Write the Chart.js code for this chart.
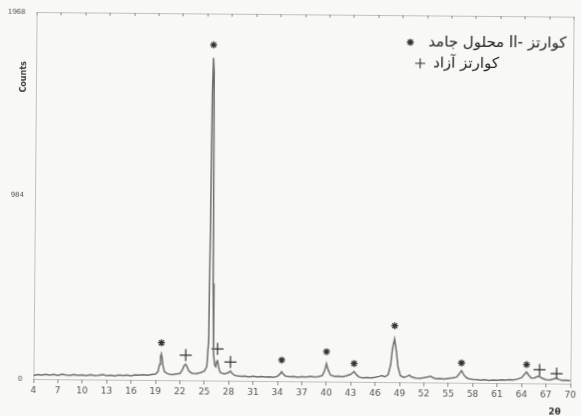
<!DOCTYPE html>
<html>
<head>
<meta charset="utf-8">
<script src="https://cdn.jsdelivr.net/npm/chart.js@4.4.1/dist/chart.umd.min.js"></script>
<style>
  html, body { margin: 0; padding: 0; background: #f8f8f6; overflow: hidden; }
  #wrap { width: 581px; height: 416px; }
  /* the scan sits a little skewed on the page */
  #xrd { transform: rotate(0.5deg); transform-origin: 35px 195px; }
</style>
</head>
<body>
<div id="wrap"><canvas id="xrd" width="581" height="416"></canvas></div>
<script>
// pattern (2 theta, counts)
const twoTheta = [4, 4.5, 5, 5.5, 6, 6.5, 7, 7.5, 8, 8.5, 9, 9.5, 10, 10.5, 11, 11.5, 12, 12.5, 13, 13.5,
  14, 14.5, 15, 15.5, 16, 16.5, 17, 17.5, 18, 18.5, 19, 19.3, 19.5, 19.6, 19.7, 19.8, 19.9, 20.1, 20.5, 21,
  21.5, 22, 22.3, 22.5, 22.7, 22.9, 23.1, 23.5, 24, 24.5, 25, 25.3, 25.5, 25.6, 25.7, 25.8, 25.9, 26, 26.1, 26.25,
  26.4, 26.5, 26.6, 26.7, 26.85, 27, 27.5, 28, 28.2, 28.4, 28.7, 29, 29.5, 30, 30.5, 31, 31.5, 32, 32.5, 33,
  33.5, 34, 34.3, 34.5, 34.7, 35, 35.5, 36, 36.5, 37, 37.5, 38, 38.5, 39, 39.5, 39.8, 40, 40.2, 40.5, 41,
  41.5, 42, 42.5, 43, 43.4, 43.7, 44, 44.5, 45, 45.5, 46, 46.5, 46.8, 47.2, 47.6, 47.9, 48.1, 48.35, 48.6, 48.8,
  49.1, 49.5, 50, 50.2, 50.5, 51, 51.5, 52, 52.5, 52.8, 53.2, 53.5, 54, 54.5, 55, 55.5, 56, 56.3, 56.6, 56.9,
  57.2, 57.5, 58, 58.5, 59, 59.5, 60, 60.5, 61, 61.5, 62, 62.5, 63, 63.5, 64, 64.3, 64.6, 64.9, 65.2, 65.6,
  65.9, 66.2, 66.5, 67, 67.5, 67.9, 68.3, 68.6, 69, 69.5, 70];
const counts = [18, 24, 21, 26, 22, 25, 20, 27, 23, 21, 26, 22, 24, 20, 25, 21, 23, 27, 22, 24,
  20, 25, 23, 26, 22, 27, 25, 28, 26, 30, 32, 45, 85, 125, 140, 120, 80, 45, 34, 30,
  33, 36, 55, 78, 86, 70, 50, 38, 36, 42, 50, 75, 220, 800, 1560, 1730, 1650, 520, 150, 85,
  75, 100, 111, 85, 55, 42, 36, 44, 52, 40, 30, 27, 24, 26, 22, 25, 21, 24, 22, 23,
  20, 26, 38, 51, 38, 27, 24, 26, 22, 25, 23, 27, 24, 26, 32, 60, 96, 65, 35, 28,
  30, 27, 32, 40, 55, 38, 26, 22, 24, 21, 25, 30, 35, 28, 40, 95, 180, 231, 160, 80,
  35, 26, 33, 38, 28, 23, 21, 25, 30, 33, 24, 20, 22, 19, 23, 25, 30, 45, 65, 42,
  28, 22, 19, 17, 15, 17, 14, 16, 15, 18, 16, 19, 17, 22, 30, 45, 60, 42, 28, 30,
  36, 37, 28, 20, 19, 24, 30, 22, 17, 19, 16];

// phase marks above the peaks
const starTheta = [19.7, 25.8, 34.5, 40, 43.4, 48.35, 56.6, 64.6];
const starCounts = [200, 1800, 113, 160, 98, 302, 106, 100];
const plusTheta = [22.7, 26.6, 28.2, 66.2, 68.3];
const plusCounts = [135, 170, 100, 73, 53];

const yTicks = [0, 984, 1968];
// legend lines, pieces in left-to-right order as printed
const legendStar = ["محلول جامد", " Il- ", "کوارتز"];
const legendPlus = ["کوارتز آزاد"];
const yTitle = "Counts";
const xTitle = "2\u03B8";

function toPoints(xs, ys) {
  return xs.map((x, i) => ({ x: x, y: ys[i] }));
}

const ink = "#3a3a3a";
const frame = "#8a8a8a";

function drawPieces(ctx, pieces, x, y) {
  pieces.forEach(p => {
    ctx.fillText(p, x, y);
    x += ctx.measureText(p).width;
  });
}

// box, top ticks, axis titles and legend
const decor = {
  id: "decor",
  afterDraw(chart) {
    const ctx = chart.ctx;
    const a = chart.chartArea;
    const xs = chart.scales.x;
    const ys = chart.scales.y;
    ctx.save();
    ctx.strokeStyle = frame;
    ctx.lineWidth = 1;
    ctx.setLineDash([1, 1]);
    ctx.strokeRect(a.left + 0.5, a.top + 0.5, a.right - a.left, a.bottom - a.top);
    ctx.setLineDash([]);
    xs.ticks.forEach(t => {
      const px = Math.round(xs.getPixelForValue(t.value)) + 0.5;
      ctx.beginPath();
      ctx.moveTo(px, a.top);
      ctx.lineTo(px, a.top + 3);
      ctx.stroke();
    });

    ctx.fillStyle = ink;
    ctx.font = "bold 8px 'DejaVu Sans'";
    ctx.textAlign = "center";
    ctx.textBaseline = "middle";
    ctx.save();
    ctx.translate(a.left - 12, ys.getPixelForValue(1620));
    ctx.rotate(-Math.PI / 2);
    ctx.fillText(yTitle, 0, 0);
    ctx.restore();

    ctx.font = "bold 9px 'DejaVu Sans'";
    ctx.fillText(xTitle, xs.getPixelForValue(68.1), a.bottom + 29);

    // legend
    ctx.strokeStyle = "#333";
    ctx.lineWidth = 1.4;
    const starX = 409, starY = 39;
    ctx.beginPath();
    for (let k = 0; k < 4; k++) {
      const ang = k * Math.PI / 4;
      ctx.moveTo(starX - 3.5 * Math.cos(ang), starY - 3.5 * Math.sin(ang));
      ctx.lineTo(starX + 3.5 * Math.cos(ang), starY + 3.5 * Math.sin(ang));
    }
    ctx.stroke();
    const plusX = 419, plusY = 60;
    ctx.lineWidth = 1.1;
    ctx.beginPath();
    ctx.moveTo(plusX - 5, plusY);
    ctx.lineTo(plusX + 5, plusY);
    ctx.moveTo(plusX, plusY - 5);
    ctx.lineTo(plusX, plusY + 5);
    ctx.stroke();

    ctx.font = "15px 'DejaVu Sans'";
    ctx.textAlign = "left";
    ctx.direction = "ltr";
    ctx.fillStyle = "#222";
    drawPieces(ctx, legendStar, 427, starY);
    drawPieces(ctx, legendPlus, 432, plusY);
    ctx.restore();
  }
};

new Chart(document.getElementById("xrd"), {
  type: "scatter",
  data: {
    datasets: [
      {
        label: "pattern",
        data: toPoints(twoTheta, counts),
        showLine: true,
        borderColor: "#707070",
        borderWidth: 1.5,
        pointRadius: 0,
        tension: 0
      },
      {
        label: "star",
        data: toPoints(starTheta, starCounts),
        pointStyle: "star",
        pointRadius: 3.5,
        borderColor: "#333",
        borderWidth: 1.3
      },
      {
        label: "plus",
        data: toPoints(plusTheta, plusCounts),
        pointStyle: "cross",
        pointRadius: 6,
        borderColor: "#333",
        borderWidth: 1.2
      }
    ]
  },
  options: {
    responsive: false,
    animation: false,
    layout: { padding: { top: 12, right: 9, left: 0, bottom: 0 } },
    plugins: {
      legend: { display: false },
      tooltip: { enabled: false }
    },
    scales: {
      x: {
        type: "linear",
        min: 4,
        max: 70,
        afterFit: s => { s.height = 37; },
        border: { display: false },
        grid: { drawOnChartArea: false, drawTicks: true, tickLength: 4, color: frame },
        ticks: { stepSize: 3, color: "#555", padding: 2, font: { size: 9, family: "'DejaVu Sans'" } }
      },
      y: {
        min: 0,
        max: 1968,
        afterFit: s => { s.width = 35; },
        afterBuildTicks: s => { s.ticks = yTicks.map(v => ({ value: v })); },
        border: { display: false },
        grid: { display: false },
        ticks: {
          color: "#555",
          padding: 3,
          font: { size: 7, family: "'DejaVu Sans'" },
          callback: v => String(v)
        }
      }
    }
  },
  plugins: [decor]
});
</script>
</body>
</html>
